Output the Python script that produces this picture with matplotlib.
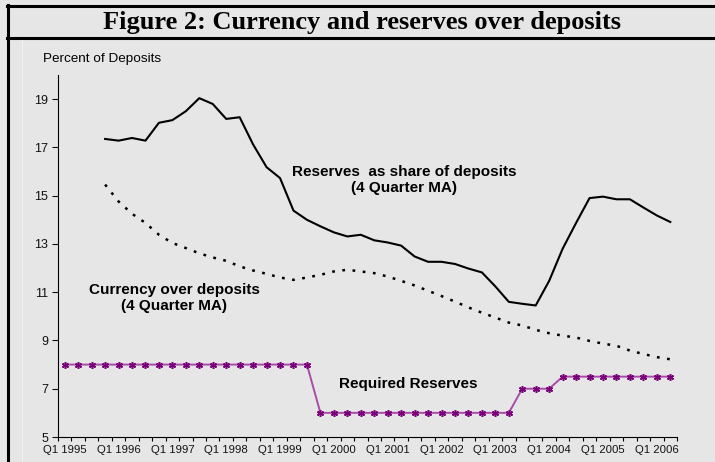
import matplotlib.pyplot as plt
from matplotlib.lines import Line2D

# quarters Q1 1995 .. Q2 2006 (46 categories)
years = list(range(1995, 2007))
tick_labels = [f'Q1 {y}' for y in years]

# reserves as share of deposits, 4 quarter MA (starts Q4 1995)
reserves = [17.35, 17.28, 17.39, 17.28, 18.02, 18.13, 18.50, 19.04, 18.80, 18.18,
            18.25, 17.12, 16.18, 15.73, 14.38, 14.00, 13.73, 13.48, 13.31, 13.38,
            13.15, 13.06, 12.93, 12.48, 12.26, 12.26, 12.17, 11.98, 11.82, 11.24,
            10.60, 10.52, 10.45, 11.47, 12.80, 13.87, 14.90, 14.96, 14.85, 14.85,
            14.51, 14.18, 13.91]

# currency over deposits, 4 quarter MA (starts Q4 1995)
currency = [15.46, 14.76, 14.25, 13.87, 13.38, 13.04, 12.83, 12.61, 12.44, 12.30,
            12.07, 11.90, 11.76, 11.61, 11.51, 11.61, 11.72, 11.86, 11.93, 11.86,
            11.79, 11.65, 11.47, 11.28, 11.06, 10.84, 10.61, 10.37, 10.15, 9.95,
            9.74, 9.62, 9.44, 9.30, 9.20, 9.12, 8.98, 8.87, 8.78, 8.58,
            8.44, 8.31, 8.22]

# required reserves (Q1 1995 .. Q2 2006)
required = [8] * 19 + [6] * 15 + [7] * 3 + [7.5] * 9

plt.rcParams['font.family'] = 'Liberation Sans'

bg = '#e6e6e6'
W, H = 715, 462
fig = plt.figure(figsize=(7.15, 4.62), dpi=100, facecolor=bg)
ax = fig.add_axes([58 / W, 25 / H, 619 / W, 362 / H])
ax.set_facecolor(bg)

x_req = list(range(len(required)))
x_res = list(range(3, 3 + len(reserves)))
x_cur = list(range(3, 3 + len(currency)))

ax.plot(x_res, reserves, color='black', lw=1.5)
ax.plot(x_cur, currency, color='black', lw=1.8, dashes=(1.1, 3.0))
ax.plot(x_req, required, color='#a84ca8', lw=1.4, marker=(6, 2, 0),
        markersize=5, markeredgecolor='#7a007a', markeredgewidth=1.1)

ax.set_xlim(-0.5, len(required) - 0.5)
ax.set_ylim(5, 20)
ax.set_yticks(range(5, 20, 2))
ax.set_xticks(range(0, len(required), 4))
ax.set_xticklabels(tick_labels)
ax.set_xticks([i - 0.5 for i in range(len(required) + 1)], minor=True)
ax.tick_params(axis='x', which='major', length=0, pad=6, labelsize=8.2,
               colors='#111111')
ax.tick_params(axis='x', which='minor', length=3, width=0.8, direction='out')
ax.tick_params(axis='y', length=4, width=0.8, pad=3, labelsize=9,
               colors='#111111')
for s in ['top', 'right']:
    ax.spines[s].set_visible(False)
for s in ['left', 'bottom']:
    ax.spines[s].set_linewidth(0.8)


def px_text(x, y, s, **kw):
    # place text by pixel position measured from the top-left corner
    fig.text(x / W, 1 - y / H, s, **kw)


px_text(404, 180, 'Reserves  as share of deposits\n(4 Quarter MA)',
        fontsize=11, fontweight='bold', ha='center', va='center',
        linespacing=1.2)
px_text(174, 298, 'Currency over deposits\n(4 Quarter MA)',
        fontsize=11, fontweight='bold', ha='center', va='center',
        linespacing=1.2)
px_text(408, 384, 'Required Reserves', fontsize=11, fontweight='bold',
        ha='center', va='center')
px_text(43, 59, 'Percent of Deposits', fontsize=9.7, ha='left', va='center')
px_text(362, 22, 'Figure 2: Currency and reserves over deposits',
        fontsize=19, fontweight='bold', ha='center', va='center',
        family='Liberation Serif')

# frame lines
fig.add_artist(Line2D([7 / W, 1], [1 - 6 / H] * 2, color='black', lw=2.2))
fig.add_artist(Line2D([7 / W, 1], [1 - 38 / H] * 2, color='black', lw=2.2))
fig.add_artist(Line2D([8 / W] * 2, [0, 1 - 5 / H], color='black', lw=2.2))
fig.add_artist(Line2D([22 / W] * 2, [0, 1 - 40 / H], color='#f0f0f0', lw=0.8))

fig.savefig('out.png', dpi=100, facecolor=bg)
